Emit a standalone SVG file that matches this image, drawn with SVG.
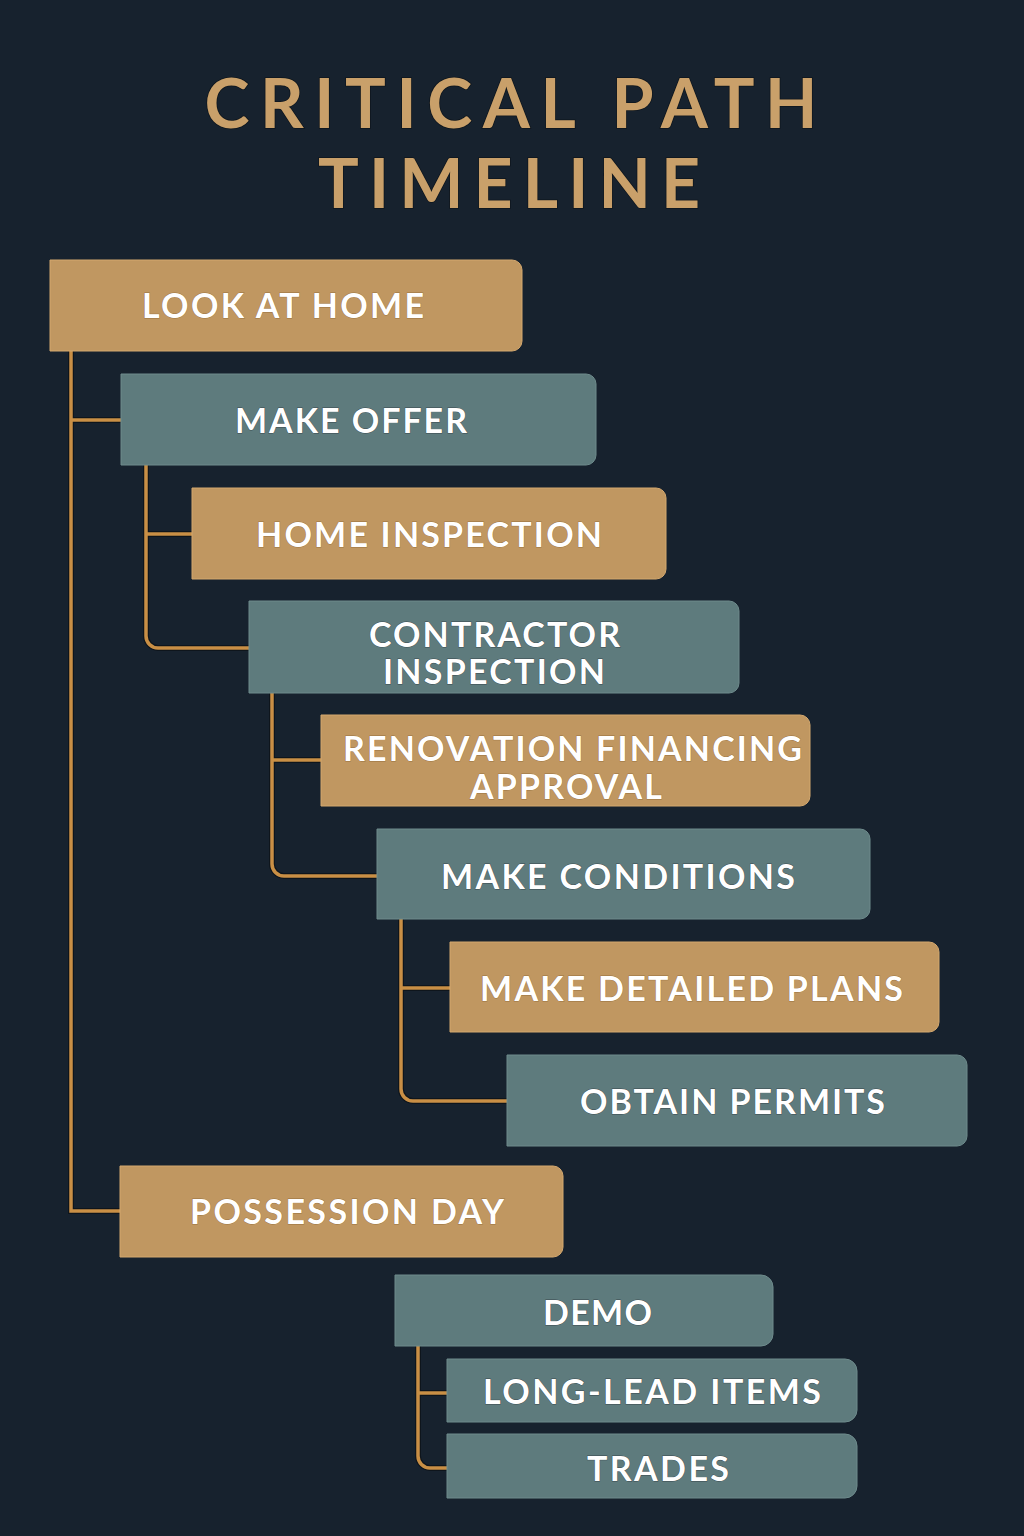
<svg xmlns="http://www.w3.org/2000/svg" width="1024" height="1536" viewBox="0 0 1024 1536">
<defs>
<style>
.bg{fill:#17222e}
.gold{fill:#c09761;stroke:#d4a86e;stroke-width:1}
.teal{fill:#5e7b7d;stroke:#6e8b8c;stroke-width:1}
.lbl{font-family:Lato,"Noto Sans","Liberation Sans",sans-serif;font-weight:700;font-size:34px;fill:#ffffff;text-anchor:middle;stroke:#3b4a4f;stroke-width:0.8;paint-order:stroke}
.gold-t{stroke:#9a7340}
.title{font-family:Lato,"Noto Sans","Liberation Sans",sans-serif;font-weight:700;font-size:68px;fill:#c9a06a;text-anchor:middle;stroke:#0e151c;stroke-width:1.5;paint-order:stroke}
.conn{fill:none;stroke:#c98f45;stroke-width:3.5;stroke-linejoin:miter}
.connshadow{fill:none;stroke:#0e151c;stroke-width:6}
</style>
</defs>
<rect class="bg" x="0" y="0" width="1024" height="1536"/>

<g id="title">
<text class="title" x="511" y="128" textLength="613" lengthAdjust="spacing">CRITICAL PATH</text>
<text class="title" x="509" y="208" textLength="382" lengthAdjust="spacing">TIMELINE</text>
</g>

<g id="connectors">
<g class="connshadow">
<path d="M71 351 V1211 H120"/>
<path d="M71 420 H121"/>
<path d="M146 465 V636 A12 12 0 0 0 158 648 H249"/>
<path d="M146 534 H192"/>
<path d="M272 693 V864 A12 12 0 0 0 284 876 H377"/>
<path d="M272 760 H321"/>
<path d="M401 919 V1089 A12 12 0 0 0 413 1101 H507"/>
<path d="M401 988 H450"/>
<path d="M418 1346 V1456 A12 12 0 0 0 430 1468 H447"/>
<path d="M418 1393 H447"/>
</g>
<g class="conn">
<path d="M71 351 V1211 H120"/>
<path d="M71 420 H121"/>
<path d="M146 465 V636 A12 12 0 0 0 158 648 H249"/>
<path d="M146 534 H192"/>
<path d="M272 693 V864 A12 12 0 0 0 284 876 H377"/>
<path d="M272 760 H321"/>
<path d="M401 919 V1089 A12 12 0 0 0 413 1101 H507"/>
<path d="M401 988 H450"/>
<path d="M418 1346 V1456 A12 12 0 0 0 430 1468 H447"/>
<path d="M418 1393 H447"/>
</g>
</g>

<g id="node-look-at-home">
<path class="gold" d="M50 260 H512 A10 10 0 0 1 522 270 V341 A10 10 0 0 1 512 351 H50 Z"/>
<text class="lbl gold-t" x="283" y="318" textLength="282" lengthAdjust="spacing">LOOK AT HOME</text>
</g>
<g id="node-make-offer">
<path class="teal" d="M121 374 H586 A10 10 0 0 1 596 384 V455 A10 10 0 0 1 586 465 H121 Z"/>
<text class="lbl" x="351" y="433" textLength="232" lengthAdjust="spacing">MAKE OFFER</text>
</g>
<g id="node-home-inspection">
<path class="gold" d="M192 488 H656 A10 10 0 0 1 666 498 V569 A10 10 0 0 1 656 579 H192 Z"/>
<text class="lbl gold-t" x="429" y="547" textLength="346" lengthAdjust="spacing">HOME INSPECTION</text>
</g>
<g id="node-contractor-inspection">
<path class="teal" d="M249 601 H729 A10 10 0 0 1 739 611 V683 A10 10 0 0 1 729 693 H249 Z"/>
<text class="lbl" x="494.5" y="647" textLength="251" lengthAdjust="spacing">CONTRACTOR</text>
<text class="lbl" x="494" y="684" textLength="222" lengthAdjust="spacing">INSPECTION</text>
</g>
<g id="node-renovation-financing">
<path class="gold" d="M321 715 H800 A10 10 0 0 1 810 725 V796 A10 10 0 0 1 800 806 H321 Z"/>
<text class="lbl gold-t" x="572.5" y="761" textLength="459" lengthAdjust="spacing">RENOVATION FINANCING</text>
<text class="lbl gold-t" x="566" y="799" textLength="192" lengthAdjust="spacing">APPROVAL</text>
</g>
<g id="node-make-conditions">
<path class="teal" d="M377 829 H860 A10 10 0 0 1 870 839 V909 A10 10 0 0 1 860 919 H377 Z"/>
<text class="lbl" x="618" y="889" textLength="354" lengthAdjust="spacing">MAKE CONDITIONS</text>
</g>
<g id="node-make-detailed-plans">
<path class="gold" d="M450 942 H929 A10 10 0 0 1 939 952 V1022 A10 10 0 0 1 929 1032 H450 Z"/>
<text class="lbl gold-t" x="691.5" y="1001" textLength="423" lengthAdjust="spacing">MAKE DETAILED PLANS</text>
</g>
<g id="node-obtain-permits">
<path class="teal" d="M507 1055 H957 A10 10 0 0 1 967 1065 V1136 A10 10 0 0 1 957 1146 H507 Z"/>
<text class="lbl" x="732.5" y="1114" textLength="305" lengthAdjust="spacing">OBTAIN PERMITS</text>
</g>
<g id="node-possession-day">
<path class="gold" d="M120 1166 H553 A10 10 0 0 1 563 1176 V1247 A10 10 0 0 1 553 1257 H120 Z"/>
<text class="lbl gold-t" x="347" y="1224" textLength="314" lengthAdjust="spacing">POSSESSION DAY</text>
</g>
<g id="node-demo">
<path class="teal" d="M395 1275 H761 A12 12 0 0 1 773 1287 V1334 A12 12 0 0 1 761 1346 H395 Z"/>
<text class="lbl" x="597.5" y="1325" textLength="109" lengthAdjust="spacing">DEMO</text>
</g>
<g id="node-long-lead-items">
<path class="teal" d="M447 1359 H845 A12 12 0 0 1 857 1371 V1410 A12 12 0 0 1 845 1422 H447 Z"/>
<text class="lbl" x="652" y="1404" textLength="338" lengthAdjust="spacing">LONG-LEAD ITEMS</text>
</g>
<g id="node-trades">
<path class="teal" d="M447 1434 H845 A12 12 0 0 1 857 1446 V1486 A12 12 0 0 1 845 1498 H447 Z"/>
<text class="lbl" x="658" y="1481" textLength="142" lengthAdjust="spacing">TRADES</text>
</g>
</svg>
